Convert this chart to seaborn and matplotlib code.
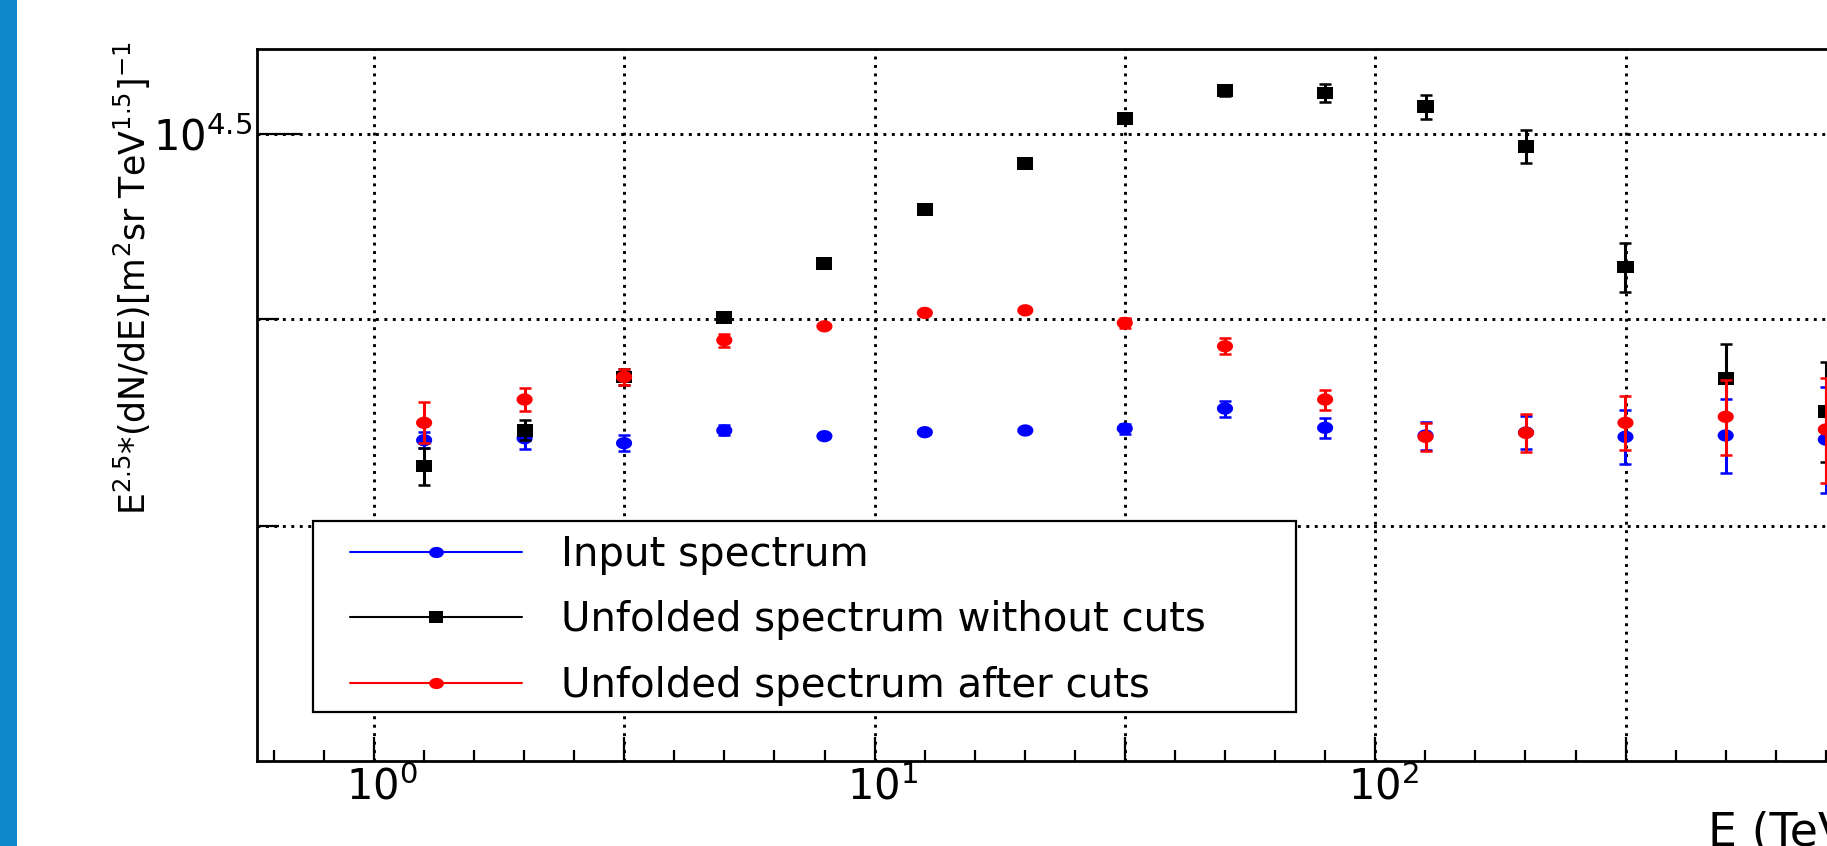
import numpy as np
import pandas as pd
import matplotlib
matplotlib.use("Agg")
import matplotlib.pyplot as plt
import seaborn as sns
from matplotlib.path import Path
from matplotlib.lines import Line2D
from matplotlib.patches import Rectangle
from matplotlib.transforms import ScaledTranslation

# ---------------- data ----------------
energy = [1.26, 2.0, 3.16, 5.01, 7.94, 12.6, 20.0, 31.6, 50.1, 79.4, 126, 200, 316, 501, 794]

input_vals = [26564, 26594, 26519, 26711, 26625, 26685, 26711, 26741, 27047, 26752, 26635, 26680, 26615, 26635, 26574]
input_errs = [121, 156, 121, 76, 30, 30, 30, 76, 123, 152, 212, 250, 408, 565, 800]

nocut_vals = [26174, 26715, 27537, 28486, 29370, 30286, 31094, 31894, 32411, 32363, 32118, 31396, 29315, 27512, 27005]
nocut_errs = [278, 152, 125, 49, 33, 33, 33, 50, 92, 166, 219, 303, 408, 547, 767]

cut_vals = [26828, 27186, 27537, 28118, 28342, 28559, 28601, 28397, 28022, 27186, 26615, 26676, 26828, 26920, 26726]
cut_errs = [313, 181, 122, 104, 33, 33, 33, 81, 127, 155, 212, 288, 412, 574, 798]

labels = ["Input spectrum", "Unfolded spectrum without cuts", "Unfolded spectrum after cuts"]
colors = ["#0000ff", "#000000", "#ff0000"]

x_tick_vals = [1, 3.1623, 10, 31.623, 100, 316.23, 1000]
x_tick_labels = ["$10^{0}$", "", "$10^{1}$", "", "$10^{2}$", "", "$10^{3}$"]
y_tick_vals = [25298, 28460, 31623]
y_tick_labels = ["", "", "$10^{4.5}$"]

# ---------------- styling ----------------
sns.set_style("white")
plt.rcParams["font.family"] = ["DejaVu Sans"]
plt.rcParams["mathtext.fontset"] = "dejavusans"
plt.rcParams["lines.dash_capstyle"] = "butt"
for k in ["text.color", "axes.labelcolor", "xtick.color", "ytick.color", "axes.edgecolor"]:
    plt.rcParams[k] = "black"

W, H = 1827, 846
fig = plt.figure(figsize=(W / 100, H / 100), dpi=100)
fig.patch.set_facecolor("white")

# blue stripe on the left edge
fig.patches.append(Rectangle((0, 0), 16.7 / W, 1, transform=fig.transFigure,
                             facecolor="#0E88CA", edgecolor="none", zorder=0))

ax_left, ax_bottom_px, ax_top_px = 256.7, 760.7, 49.3
ax_w_px = 1769.5
ax = fig.add_axes([ax_left / W, (H - ax_bottom_px) / H, ax_w_px / W,
                   (ax_bottom_px - ax_top_px) / H])
ax.set_facecolor("white")
ax.set_xscale("log")
ax.set_yscale("log")
ax.set_xlim(10 ** -0.234, 10 ** 3.3)
ax.set_ylim(22136, 33180)


def ellipse_path(ratio):
    t = np.linspace(0, 2 * np.pi, 60)
    v = np.column_stack([np.cos(t), ratio * np.sin(t)])
    return Path(v, closed=True)


def rect_path(ratio):
    v = np.array([[-1, -ratio], [1, -ratio], [1, ratio], [-1, ratio], [-1, -ratio]])
    return Path(v, closed=True)


circ = ellipse_path(0.76)
sq = rect_path(0.78)
markers = [circ, sq, circ]

series = [(input_vals, input_errs), (nocut_vals, nocut_errs), (cut_vals, cut_errs)]
z = 3
for (vals, errs), col, mk in zip(series, colors, markers):
    ax.errorbar(energy, vals, yerr=errs, fmt="none", ecolor=col, elinewidth=2.2,
                capsize=4.0, capthick=1.8, zorder=z)
    df = pd.DataFrame({"E": energy, "v": vals})
    sns.scatterplot(data=df, x="E", y="v", marker=mk, s=135, color=col,
                    linewidth=0, edgecolor="none", ax=ax, zorder=z + 0.5, legend=False)
    z += 1

# ticks
ax.set_xticks(x_tick_vals)
ax.set_xticklabels(x_tick_labels)
minor = [10 ** (j / 10) for j in range(-2, 34) if j % 5 != 0]
ax.set_xticks(minor, minor=True)
ax.set_xticklabels([], minor=True)
ax.set_yticks(y_tick_vals)
ax.set_yticklabels(y_tick_labels)
ax.yaxis.set_minor_locator(matplotlib.ticker.NullLocator())

ax.tick_params(axis="x", which="major", direction="in", length=17.3, width=1.6,
               labelsize=30, pad=4, top=False, bottom=True, color="black")
ax.tick_params(axis="x", which="minor", direction="in", length=7.9, width=1.6,
               top=False, bottom=True, color="black")
ax.tick_params(axis="y", which="major", direction="in", length=15.8, width=1.6,
               labelsize=30, pad=3, left=True, right=False, color="black")
yt = ax.yaxis.get_major_ticks()
yt[2].tick1line.set_markersize(31)

for lab in ax.get_xticklabels():
    lab.set_transform(lab.get_transform() + ScaledTranslation(8 / 100, 0, fig.dpi_scale_trans))

for sp in ax.spines.values():
    sp.set_linewidth(2.0)
    sp.set_color("black")

ax.grid(True, which="major", axis="both", color="black",
        linestyle=(0, (1, 1.9)), linewidth=2.1)
ax.set_axisbelow(True)

# axis labels
ax.set_xlabel("E (TeV)", fontsize=33)
ax.xaxis.label.set_ha("left")
ax.xaxis.label.set_va("top")
ax.xaxis.set_label_coords((1708 - ax_left) / ax_w_px, (ax_bottom_px - 810) / (ax_bottom_px - ax_top_px))

ax.set_ylabel(r"E$^{2.5}$*(dN/dE)[m$^{2}$sr TeV$^{1.5}$]$^{-1}$", fontsize=25)
ax.yaxis.label.set_rotation_mode("anchor")
ax.yaxis.label.set_rotation(90)
ax.yaxis.label.set_ha("right")
ax.yaxis.label.set_va("baseline")
ax.yaxis.set_label_coords((146 - ax_left) / ax_w_px, (ax_bottom_px - 41) / (ax_bottom_px - ax_top_px))

# legend box and entries
lx0, ly0, lx1, ly1 = 312.7, 521, 1296, 712
ax.add_patch(Rectangle((lx0 / W, (H - ly1) / H), (lx1 - lx0) / W, (ly1 - ly0) / H,
                       transform=fig.transFigure, facecolor="white", edgecolor="black",
                       linewidth=1.6, zorder=20, clip_on=False))
handles = [Line2D([], [], color=c, lw=1.5, marker=m, markersize=10.6, markeredgewidth=0)
           for c, m in zip(colors, markers)]
fs = 29
leg = ax.legend(handles, labels, loc="upper left", bbox_to_anchor=(350 / W, (H - 535) / H),
                bbox_transform=fig.transFigure, frameon=False, fontsize=fs,
                borderpad=0, borderaxespad=0, handlelength=4.26, handletextpad=0.99,
                labelspacing=0.63)
leg.set_zorder(21)

fig.savefig("out.png", dpi=100, facecolor="white")
